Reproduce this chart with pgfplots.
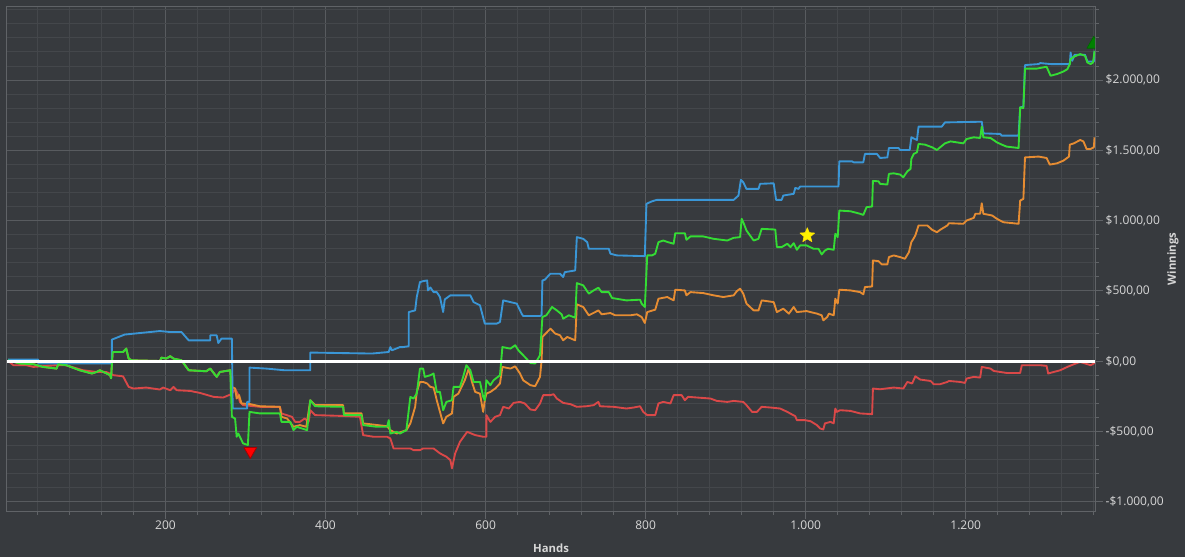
\documentclass[border=0pt]{standalone}
\usepackage{pgfplots}
\pgfplotsset{compat=1.18}
\usepackage{fontspec}
\setmainfont{Open Sans}
\definecolor{bg}{RGB}{55,58,62}
\definecolor{gridmaj}{RGB}{88,91,95}
\definecolor{gridmin}{RGB}{68,71,75}
\definecolor{axisc}{RGB}{96,99,103}
\definecolor{tickc}{RGB}{215,215,215}
\definecolor{cblue}{RGB}{58,150,214}
\definecolor{cgreen}{RGB}{52,220,52}
\definecolor{corange}{RGB}{230,140,50}
\definecolor{cred}{RGB}{218,72,72}
\pgfdeclareplotmark{fstar}{%
 \pgfpathmoveto{\pgfpointpolar{90}{\pgfplotmarksize}}%
 \pgfpathlineto{\pgfpointpolar{126}{0.45\pgfplotmarksize}}%
 \pgfpathlineto{\pgfpointpolar{162}{\pgfplotmarksize}}%
 \pgfpathlineto{\pgfpointpolar{198}{0.45\pgfplotmarksize}}%
 \pgfpathlineto{\pgfpointpolar{234}{\pgfplotmarksize}}%
 \pgfpathlineto{\pgfpointpolar{270}{0.45\pgfplotmarksize}}%
 \pgfpathlineto{\pgfpointpolar{306}{\pgfplotmarksize}}%
 \pgfpathlineto{\pgfpointpolar{342}{0.45\pgfplotmarksize}}%
 \pgfpathlineto{\pgfpointpolar{18}{\pgfplotmarksize}}%
 \pgfpathlineto{\pgfpointpolar{54}{0.45\pgfplotmarksize}}%
 \pgfpathclose
 \pgfusepathqfillstroke}
\begin{document}
\begin{tikzpicture}
\fill[bg] (-5.25pt,-34.5pt) rectangle (883.5pt,383.25pt);
\useasboundingbox (-5.25pt,-34.5pt) rectangle (883.5pt,383.25pt);
\begin{axis}[
  width=816pt, height=378pt, scale only axis,
  xmin=2, xmax=1361.5, ymin=-1065, ymax=2520,
  xtick={200,400,600,800,1000,1200},
  xticklabels={200,400,600,800,1.000,1.200},
  minor xtick={40,80,...,1360},
  ytick={-1000,-500,0,500,1000,1500,2000},
  yticklabels={{-\$1.000,00},{-\$500,00},{\$0,00},{\$500,00},{\$1.000,00},{\$1.500,00},{\$2.000,00}},
  minor ytick={-1000,-900,...,2500},
  xtick pos=bottom, ytick pos=right, yticklabel pos=right,
  tick align=outside,
  major tick length=6pt, minor tick length=3pt,
  grid=both,
  major grid style={draw=gridmaj, line width=0.75pt},
  minor grid style={draw=gridmin, line width=0.75pt},
  axis line style={draw=axisc, line width=0.75pt},
  tick style={draw=axisc, line width=0.75pt},
  tick label style={font=\fontsize{9}{11}\selectfont, text=tickc},
  xticklabel style={yshift=2pt},
  yticklabel style={xshift=-1.5pt},
  clip marker paths=true,
  every axis plot/.append style={line width=1.4pt, line join=round},
]
% red
\addplot[cred, mark=none] coordinates {
(3.5,2) (10,-28) (26,-28) (35,-40) (64,-28) (76,-28) (97,-64) (114,-76) (126,-76) (135,-99) (147,-107) (154,-182) (160,-194) (176,-187) (193,-201) (197,-187) (206,-206) (210,-182) (214,-206) (231,-211) (243,-225) (260,-253) (272,-258) (281,-237) (285,-218) (287,-194) (291,-241) (293,-289) (297,-312) (318,-324) (343,-324) (345,-371) (358,-395) (362,-431) (368,-431) (374,-407) (379,-431) (381,-348) (387,-383) (422,-389) (443,-395) (447,-525) (460,-537) (477,-537) (481,-549) (485,-620) (493,-620) (506,-620) (510,-632) (518,-632) (522,-620) (535,-620) (543,-655) (551,-679) (556,-703) (558,-762) (562,-655) (568,-573) (577,-502) (587,-525) (597,-537) (601,-537) (601,-383) (606,-431) (612,-395) (618,-383) (622,-324) (629,-336) (635,-296) (643,-289) (649,-300) (656,-343) (662,-348) (668,-300) (672,-241) (681,-241) (685,-234) (689,-265) (697,-296) (706,-305) (714,-324) (726,-320) (735,-312) (741,-289) (743,-320) (760,-324) (776,-336) (785,-329) (793,-320) (797,-360) (802,-383) (812,-383) (816,-300) (822,-289) (831,-300) (835,-241) (845,-241) (849,-277) (853,-253) (881,-265) (889,-282) (902,-289) (910,-282) (922,-289) (926,-312) (933,-360) (939,-360) (945,-324) (956,-329) (968,-336) (977,-360) (987,-391) (989,-419) (999,-419) (1006,-426) (1014,-454) (1018,-478) (1022,-485) (1024,-442) (1031,-431) (1035,-442) (1037,-336) (1039,-360) (1043,-348) (1056,-353) (1068,-371) (1083,-376) (1084,-194) (1093,-199) (1110,-187) (1122,-194) (1127,-147) (1133,-158) (1137,-107) (1143,-130) (1156,-140) (1160,-163) (1168,-163) (1177,-147) (1179,-140) (1193,-147) (1199,-154) (1201,-123) (1210,-111) (1218,-116) (1220,-40) (1231,-52) (1235,-69) (1251,-83) (1268,-83) (1270,-28) (1293,-28) (1301,-33) (1303,-87) (1310,-76) (1318,-64) (1327,-40) (1335,-21) (1343,-5) (1347,-12) (1356,-28) (1360,-16) (1361,-7)
};
% orange
\addplot[corange, mark=none] coordinates {
(3.5,7) (18,-16) (35,-21) (47,-40) (64,-52) (66,-21) (76,-28) (93,-64) (108,-87) (114,-76) (118,-64) (131,-99) (132,-121) (134,66) (147,66) (151,90) (154,19) (158,7) (193,2) (195,26) (201,19) (206,36) (210,19) (220,7) (229,-64) (251,-71) (256,-52) (264,-111) (268,-76) (281,-64)
(283,-182) (287,-194) (289,-265) (292,-241) (295,-300) (306,-305) (318,-320) (343,-324) (345,-395) (352,-407) (360,-466) (368,-454) (376,-466) (381,-277) (387,-312) (422,-312) (423,-371) (445,-371) (447,-442) (477,-462) (481,-490) (489,-514) (501,-490) (506,-442) (512,-324) (514,-218) (518,-147) (522,-147) (527,-158) (531,-182) (535,-187) (537,-230) (539,-277) (547,-442) (551,-395) (558,-371) (560,-253) (566,-230) (570,-182) (574,-135) (579,-52) (583,-147) (587,-218) (593,-230) (597,-360) (599,-277) (601,-230) (606,-218) (612,-194) (618,-158) (621,-40) (631,-52) (637,-36) (643,-87) (647,-135) (656,-170) (662,-177) (668,-111) (670,7) (671,173) (681,232) (687,197) (693,185) (697,149) (702,173) (712,149) (714,405) (722,386) (729,327) (737,350) (741,362) (745,334) (756,343) (762,327) (781,327) (789,334) (795,315) (799,272) (802,350) (812,367) (816,445) (827,457) (835,433) (837,509) (849,504) (851,469) (856,492) (872,485) (885,469) (897,457) (910,469) (914,499) (918,516) (922,481) (926,410) (935,362) (941,362) (945,433) (960,421) (964,350) (972,374) (979,339) (985,386) (989,350) (1001,357) (1014,339) (1020,327) (1022,291) (1027,315) (1029,339) (1035,327) (1037,445) (1040,410) (1042,509) (1056,504) (1068,492) (1072,476) (1074,528) (1083,532) (1084,717) (1091,712) (1095,689) (1102,689) (1104,741) (1110,753) (1118,741) (1124,729) (1129,776) (1132,847) (1135,875) (1137,895) (1141,966) (1152,966) (1158,935) (1164,918) (1168,935) (1177,966) (1179,982) (1197,978) (1201,1001) (1210,1020) (1212,1049) (1218,1049) (1220,1124) (1222,1049) (1233,1037) (1239,1013) (1247,989) (1266,978) (1268,1143) (1272,1155) (1274,1450) (1291,1456) (1301,1446) (1305,1399) (1314,1408) (1322,1427) (1329,1456) (1330,1541) (1335,1550) (1343,1574) (1347,1564) (1351,1510) (1356,1510) (1360,1522) (1361,1593)
};
% blue
\addplot[cblue, mark=none] coordinates {
(3.5,12) (41,12) (41,-16) (133,-16) (133,154) (149,190) (193,215) (206,208) (220,208) (229,149) (256,149) (256,185) (264,185) (266,130) (270,161) (283,161) (284,-336) (302,-336) (302,-289) (305,-289) (305,-45) (326,-52) (349,-64) (381,-64) (381,62) (458,55) (479,66) (481,101) (483,78) (493,101) (497,101) (504,107) (504,350) (512,362) (514,457) (518,563) (522,570) (527,575) (528,504) (531,525) (535,492) (539,492) (543,457) (547,350) (549,440) (556,469) (581,469) (585,421) (593,398) (599,268) (614,268) (618,279) (622,433) (631,421) (639,410) (645,339) (647,322) (668,322) (670,327) (671,575) (674,580) (681,623) (693,623) (697,599) (699,634) (712,646) (714,883) (722,871) (727,847) (729,800) (754,800) (756,765) (764,753) (799,748) (801,1120) (808,1138) (814,1148) (910,1148) (916,1179) (919,1290) (922,1273) (926,1226) (941,1226) (943,1262) (960,1266) (963,1148) (970,1148) (972,1179) (985,1191) (987,1233) (991,1226) (993,1243) (1041,1243) (1042,1422) (1058,1422) (1060,1415) (1072,1415) (1074,1475) (1089,1475) (1093,1446) (1102,1450) (1104,1517) (1116,1517) (1118,1503) (1130,1503) (1132,1593) (1139,1574) (1141,1669) (1170,1669) (1174,1699) (1220,1704) (1222,1621) (1243,1617) (1245,1605) (1266,1605) (1268,1806) (1272,1811) (1274,2107) (1291,2114) (1293,2121) (1306,2114) (1330,2114) (1331,2196) (1333,2137) (1336,2180) (1349,2180) (1352,2132) (1360,2132) (1361,2208)
};
% green
\addplot[cgreen, mark=none] coordinates {
(3.5,7) (18,-16) (35,-21) (47,-40) (64,-52) (66,-21) (76,-28) (93,-64) (108,-87) (114,-76) (118,-64) (131,-99) (132,-121) (134,66) (147,66) (151,90) (154,19) (158,7) (193,2) (195,26) (201,19) (206,36) (210,19) (220,7) (229,-64) (251,-71) (256,-52) (264,-111) (268,-76) (281,-64) (283,-395) (287,-407) (289,-537) (291,-514) (293,-537) (297,-584) (303,-596) (305,-360) (318,-371) (343,-371) (345,-431) (356,-431) (360,-490) (364,-466) (377,-490) (381,-277) (387,-320) (422,-324) (423,-383) (445,-383) (447,-454) (464,-466) (477,-466) (479,-419) (481,-514) (489,-502) (493,-514) (501,-490) (506,-253) (510,-265) (514,-230) (518,-52) (522,-52) (524,-111) (531,-99) (535,-87) (539,-218) (543,-218) (547,-348) (551,-289) (558,-277) (560,-182) (568,-182) (572,-111) (576,-28) (581,-64) (585,-147) (593,-147) (597,-253) (599,-277) (601,-135) (606,-170) (610,-135) (618,-99) (621,101) (631,90) (637,114) (641,78) (647,43) (656,-12) (662,-16) (668,43) (671,315) (676,327) (683,386) (689,362) (695,334) (697,303) (704,327) (712,310) (714,556) (722,540) (729,481) (735,504) (741,523) (745,492) (754,492) (758,450) (776,433) (793,438) (795,410) (799,386) (802,753) (808,753) (812,765) (816,847) (822,859) (828,847) (835,836) (837,911) (849,911) (851,864) (856,888) (872,888) (885,871) (902,859) (910,878) (918,883) (920,1013) (922,989) (926,930) (935,859) (941,871) (945,942) (962,937) (964,812) (970,812) (977,836) (981,812) (985,840) (989,793) (993,824) (1001,824) (1010,800) (1016,800) (1020,760) (1024,788) (1028,800) (1035,793) (1037,907) (1040,883) (1042,1072) (1056,1067) (1068,1049) (1072,1041) (1076,1096) (1083,1101) (1084,1283) (1091,1280) (1093,1262) (1102,1257) (1104,1333) (1110,1337) (1118,1328) (1122,1309) (1127,1351) (1131,1368) (1132,1439) (1135,1475) (1139,1486) (1141,1546) (1149,1541) (1158,1522) (1164,1503) (1168,1522) (1174,1550) (1181,1564) (1197,1550) (1201,1581) (1210,1593) (1218,1588) (1220,1669) (1222,1593) (1231,1588) (1239,1557) (1245,1541) (1251,1527) (1266,1517) (1268,1806) (1272,1801) (1274,2082) (1289,2082) (1301,2095) (1306,2031) (1314,2043) (1322,2061) (1327,2078) (1330,2114) (1331,2149) (1335,2166) (1343,2185) (1349,2173) (1352,2125) (1356,2114) (1359,2125) (1361,2208)
};
% zero line
\addplot[white, line width=2pt, mark=none] coordinates {(2,0) (1361.5,0)};
% markers
\addplot[only marks, mark=triangle*, mark size=5.5pt, mark options={rotate=180, fill=red, draw=red!65!black, line width=0.6pt}] coordinates {(306,-640)};
\addplot[only marks, mark=fstar, mark size=5.8pt, mark options={fill=yellow, draw=yellow!85!orange, line width=0.4pt}] coordinates {(1002,895)};
\addplot[only marks, mark=triangle*, mark size=6pt, mark options={fill=green!50!black, draw=green!40!black, line width=0.5pt}] coordinates {(1360,2255)};
\end{axis}
\node[font=\bfseries\fontsize{8.5}{10}\selectfont, text=tickc] at (408pt,-27.75pt) {Hands};
\node[font=\bfseries\fontsize{8.5}{10}\selectfont, text=tickc, rotate=90] at (874.5pt,189pt) {Winnings};
\end{tikzpicture}
\end{document}
